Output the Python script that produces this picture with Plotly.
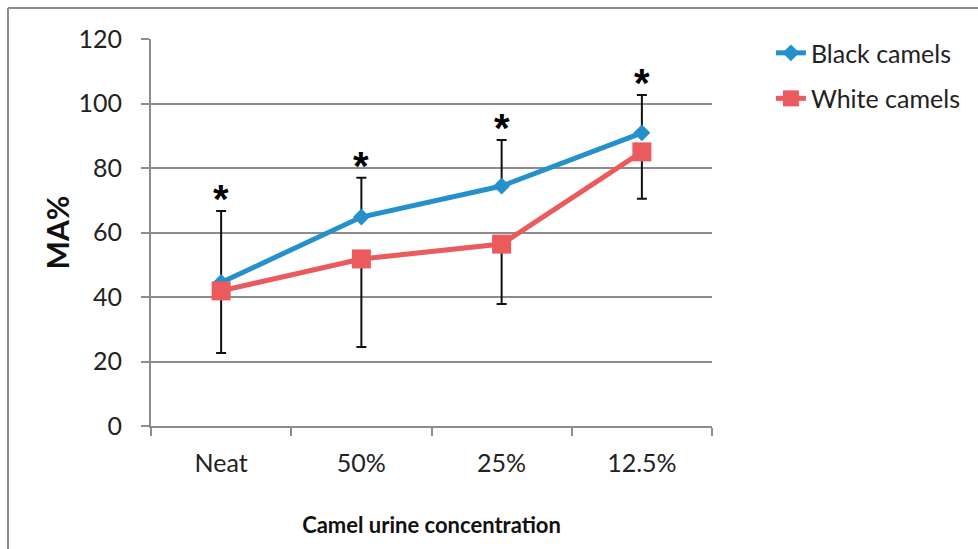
import plotly.graph_objects as go

# Mean motility (MA%) by urine concentration, with one-sided SD bars
concentrations = ["Neat", "50%", "25%", "12.5%"]
black_camels = [44.5, 64.8, 74.4, 90.9]
white_camels = [41.9, 51.8, 56.4, 85.0]
black_sd_up = [22.2, 12.2, 14.3, 11.7]
white_sd_down = [19.3, 27.3, 18.6, 14.5]
significance = ["*", "*", "*", "*"]

BLUE = "#2490cc"
RED = "#eb5a5c"
GRID = "#8c8c8c"
FONT = "Lato, 'Open Sans', sans-serif"

fig = go.Figure()

fig.add_trace(go.Scatter(
    x=concentrations, y=black_camels, name="Black camels",
    mode="lines+markers", legendgroup="b",
    line=dict(color=BLUE, width=5),
    marker=dict(symbol="diamond", size=13, color=BLUE),
    error_y=dict(type="data", symmetric=False, array=black_sd_up,
                 arrayminus=[0] * len(black_sd_up),
                 color="#111111", thickness=2, width=5),
))

fig.add_trace(go.Scatter(
    x=concentrations, y=white_camels, name="White camels",
    mode="lines+markers", legendgroup="w",
    line=dict(color=RED, width=5),
    marker=dict(symbol="square", size=19, color=RED),
    error_y=dict(type="data", symmetric=False, array=[0] * len(white_sd_down),
                 arrayminus=white_sd_down,
                 color="#111111", thickness=2, width=5),
))

# significance stars above the upper error bars
for cat, mean, sd, mark in zip(concentrations, black_camels, black_sd_up, significance):
    fig.add_annotation(
        x=cat, y=mean + sd, text=f"<b>{mark}</b>", showarrow=False,
        yanchor="bottom", yshift=-12,
        font=dict(family="Liberation Sans, sans-serif", size=40, color="#000000"),
    )

# chart frame: only the top and left edges fall inside the page
frame = dict(color="#8c8c8c", width=2)
fig.add_shape(type="line", xref="paper", yref="paper",
              x0=-0.2549, x1=1.7, y0=1.0801, y1=1.0801, line=frame)
fig.add_shape(type="line", xref="paper", yref="paper",
              x0=-0.2549, x1=-0.2549, y0=-0.6, y1=1.0801, line=frame)

fig.update_layout(
    width=978, height=549,
    margin=dict(l=151, r=266, t=39, b=123),
    paper_bgcolor="white", plot_bgcolor="white",
    font=dict(family=FONT, size=25, color="#222222"),
    showlegend=True,
    legend=dict(
        x=1.105, y=1.023, xanchor="left", yanchor="top",
        font=dict(size=25, color="#222222"),
        traceorder="grouped", tracegroupgap=10,
        bgcolor="rgba(0,0,0,0)",
    ),
    xaxis=dict(
        type="category", range=[-0.5, 3.5],
        showline=True, linecolor=GRID, linewidth=2,
        ticks="outside", tickson="boundaries", ticklen=8, tickwidth=2,
        tickcolor=GRID, ticklabelstandoff=14,
        tickfont=dict(size=25),
        showgrid=False, zeroline=False,
        title=dict(text="<b>Camel urine concentration</b>",
                   font=dict(size=22, color="#111111"), standoff=42),
    ),
    yaxis=dict(
        range=[0, 120], dtick=20,
        showline=True, linecolor=GRID, linewidth=2,
        ticks="outside", ticklen=8, tickwidth=2, tickcolor=GRID,
        ticklabelstandoff=14,
        tickfont=dict(size=25),
        showgrid=True, gridcolor=GRID, gridwidth=2, zeroline=False,
        title=dict(text="<b>MA%</b>", font=dict(size=30, color="#111111"),
                   standoff=0),
    ),
)

fig.write_html("out.html")
